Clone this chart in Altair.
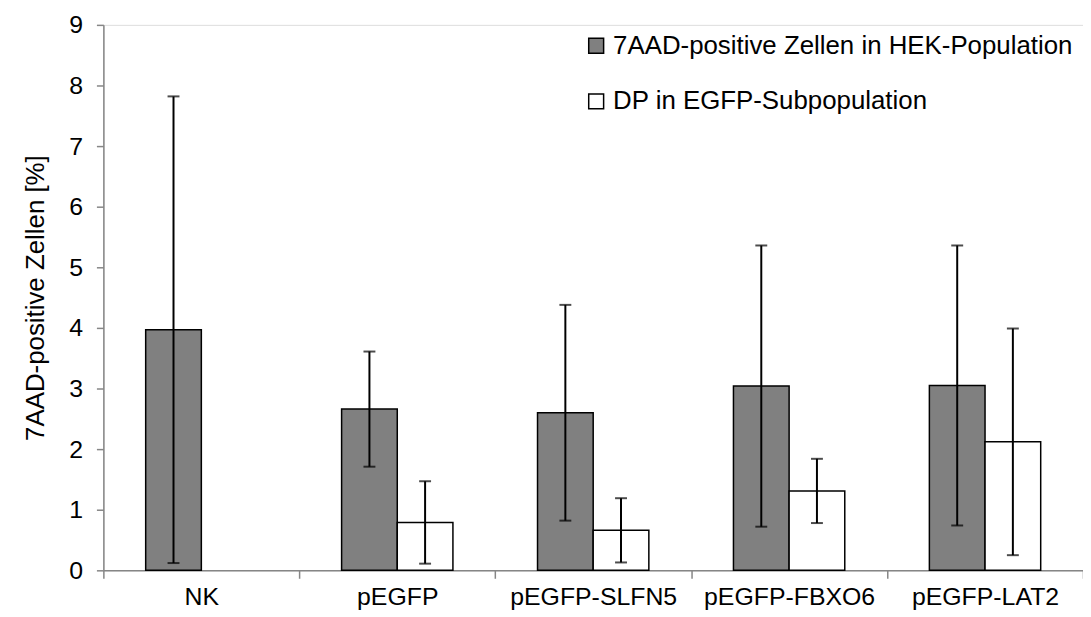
import altair as alt
import pandas as pd

categories = ["NK", "pEGFP", "pEGFP-SLFN5", "pEGFP-FBXO6", "pEGFP-LAT2"]
series_names = ["7AAD-positive Zellen in HEK-Population", "DP in EGFP-Subpopulation"]

hek_values = [3.97, 2.66, 2.60, 3.04, 3.05]
hek_err = [3.85, 0.95, 1.78, 2.32, 2.31]

dp_categories = ["pEGFP", "pEGFP-SLFN5", "pEGFP-FBXO6", "pEGFP-LAT2"]
dp_values = [0.79, 0.66, 1.31, 2.12]
dp_err = [0.68, 0.53, 0.53, 1.87]

rows = []
for c, v, e in zip(categories, hek_values, hek_err):
    rows.append({"cat": c, "series": series_names[0], "value": v, "lo": v - e, "hi": v + e})
for c, v, e in zip(dp_categories, dp_values, dp_err):
    rows.append({"cat": c, "series": series_names[1], "value": v, "lo": v - e, "hi": v + e})
df = pd.DataFrame(rows)

font = "Liberation Sans"

x = alt.X("cat:N", sort=categories, title=None,
          scale=alt.Scale(paddingInner=0, paddingOuter=0),
          axis=alt.Axis(labelAngle=0, labelFontSize=25, labelColor="black", labelFont=font,
                        domainColor="#868686", tickColor="#868686", tickSize=8, tickBand="extent",
                        labelPadding=6, grid=False, domainWidth=1.5, tickWidth=1.5))
xoff = alt.XOffset("series:N", sort=series_names,
                   scale=alt.Scale(domain=series_names, paddingInner=0, paddingOuter=0.76))
yscale = alt.Scale(domain=[0, 9], nice=False)

bars = alt.Chart(df).mark_bar(stroke="black", strokeWidth=1.5).encode(
    x=x,
    xOffset=xoff,
    y=alt.Y("value:Q", scale=yscale, title="7AAD-positive Zellen [%]",
            axis=alt.Axis(values=list(range(10)), format="d", labelFontSize=25, labelColor="black",
                          labelFont=font, titleFontSize=26, titleFont=font, titleFontWeight="normal",
                          titleColor="black", domainColor="#868686", tickColor="#868686", tickSize=7,
                          labelPadding=14, titlePadding=20, grid=False, domainWidth=1.5, tickWidth=1.5)),
    fill=alt.Fill("series:N", sort=series_names,
                  scale=alt.Scale(domain=series_names, range=["#808080", "#ffffff"]),
                  legend=alt.Legend(title=None, orient="none", legendX=483, legendY=8,
                                    labelFontSize=26, labelFont=font, labelColor="black",
                                    symbolType="square", symbolSize=225, symbolStrokeColor="black",
                                    symbolStrokeWidth=1.5, rowPadding=30, labelOffset=4,
                                    labelLimit=600)),
)

rules = alt.Chart(df).mark_rule(color="black", strokeWidth=2).encode(
    x=x, xOffset=xoff, y=alt.Y("lo:Q", scale=yscale), y2="hi:Q"
)
caps_hi = alt.Chart(df).mark_tick(color="black", size=12, thickness=2).encode(
    x=x, xOffset=xoff, y=alt.Y("hi:Q", scale=yscale)
)
caps_lo = alt.Chart(df).mark_tick(color="black", size=12, thickness=2).encode(
    x=x, xOffset=xoff, y=alt.Y("lo:Q", scale=yscale)
)

chart = alt.layer(bars, rules, caps_hi, caps_lo).properties(
    width=986, height=549,
    autosize=alt.AutoSizeParams(type="none"),
    padding={"left": 96, "top": 15, "right": 0, "bottom": 46},
).configure_view(stroke=None).configure(background="white")

chart.save("out.html", embed_options={"renderer": "svg", "actions": False})
